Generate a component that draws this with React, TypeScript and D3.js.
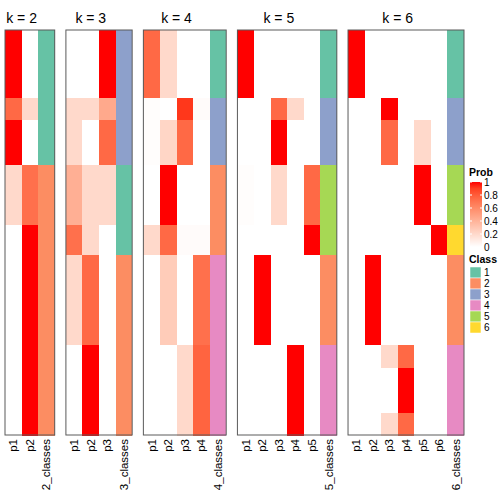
import React from "react";
import * as d3 from "d3";

// rows per sample group (54 samples)
const segmentRows = [9, 3, 6, 8, 4, 12, 3, 6, 3];

const k2Prob = [[1, 0], [0.75, 0.2], [1, 0], [0.2, 0.72], [0, 1], [0, 1], [0, 1], [0, 1], [0, 1]];
const k2Class = [1, 1, 1, 2, 2, 2, 2, 2, 2];

const k3Prob = [[0, 0, 1], [0.2, 0.2, 0.45], [0.2, 0, 0.75], [0.42, 0.2, 0.2], [0.72, 0.2, 0], [0.2, 0.75, 0], [0, 1, 0], [0, 1, 0], [0, 1, 0]];
const k3Class = [3, 3, 3, 1, 1, 2, 2, 2, 2];

const k4Prob = [[0.75, 0.2, 0, 0], [0.01, 0, 0.92, 0.02], [0.01, 0.22, 0.75, 0], [0, 1, 0, 0], [0.2, 0.75, 0.02, 0.02], [0, 0.27, 0, 0.72], [0, 0, 0.2, 0.77], [0, 0, 0.2, 0.77], [0, 0, 0.2, 0.77]];
const k4Class = [1, 3, 3, 2, 2, 4, 4, 4, 4];

const k5Prob = [[1, 0, 0, 0, 0], [0, 0, 0.75, 0.2, 0], [0, 0, 1, 0, 0], [0.01, 0, 0.2, 0, 0.75], [0, 0, 0, 0, 1], [0, 1, 0, 0, 0], [0, 0, 0, 1, 0], [0, 0, 0, 1, 0], [0, 0, 0, 1, 0]];
const k5Class = [1, 3, 3, 5, 5, 2, 4, 4, 4];

const k6Prob = [[1, 0, 0, 0, 0, 0], [0, 0, 1, 0, 0, 0], [0, 0, 0.75, 0, 0.2, 0], [0, 0, 0, 0, 1, 0], [0, 0, 0, 0, 0, 1], [0, 1, 0, 0, 0, 0], [0, 0, 0.2, 0.75, 0, 0], [0, 0, 0, 1, 0, 0], [0, 0, 0.2, 0.75, 0, 0]];
const k6Class = [1, 3, 3, 5, 6, 2, 4, 4, 4];

const panels = [
  { k: 2, prob: k2Prob, cls: k2Class },
  { k: 3, prob: k3Prob, cls: k3Class },
  { k: 4, prob: k4Prob, cls: k4Class },
  { k: 5, prob: k5Prob, cls: k5Class },
  { k: 6, prob: k6Prob, cls: k6Class },
];

const classLabels = ["1", "2", "3", "4", "5", "6"];
const classColors = ["#66C2A5", "#FC8D62", "#8DA0CB", "#E78AC3", "#A6D854", "#FFD92F"];
const probTicks = [0, 0.2, 0.4, 0.6, 0.8, 1];

const FONT = "'Liberation Sans', Arial, Helvetica, sans-serif";

export default function App() {
  const top = 30, bottom = 435;
  const left = 5, right = 464, gap = 11.2;
  const totalCols = panels.reduce((s, p) => s + p.k + 1, 0);
  const colW = (right - left - gap * (panels.length - 1)) / totalCols;
  const cum = [0];
  segmentRows.forEach((n) => cum.push(cum[cum.length - 1] + n));
  const y = d3.scaleLinear().domain([0, cum[cum.length - 1]]).range([top, bottom]);
  const probColor = d3.scaleLinear<string>().domain([0, 1]).range(["#FFFFFF", "#FF0000"]).interpolate(d3.interpolateLab);
  const classColor = d3.scaleOrdinal<number, string>().domain([1, 2, 3, 4, 5, 6]).range(classColors);

  let x0 = left;
  const panelEls = panels.map((p, pi) => {
    const names = d3.range(1, p.k + 1).map((i) => `p${i}`).concat([`${p.k}_classes`]);
    const xs = d3.scaleBand().domain(names).range([x0, x0 + colW * names.length]);
    const px = x0;
    const w = colW * names.length;
    x0 += w + gap;
    return (
      <g key={pi}>
        <g shapeRendering="crispEdges">
          {p.prob.map((row, si) =>
            row.map((v, ci) => (
              <rect key={`${si}-${ci}`} x={xs(names[ci])} y={y(cum[si])} width={xs.bandwidth() + 0.5}
                height={y(cum[si + 1]) - y(cum[si]) + 0.5} fill={probColor(v)} />
            ))
          )}
          {p.cls.map((c, si) => (
            <rect key={`c${si}`} x={xs(names[p.k])} y={y(cum[si])} width={xs.bandwidth()}
              height={y(cum[si + 1]) - y(cum[si]) + 0.5} fill={classColor(c)} />
          ))}
        </g>
        <rect x={px} y={top} width={w} height={bottom - top} fill="none" stroke="#5a5a5a" strokeWidth={1} />
        <text x={px + (colW * p.k) / 2} y={23} textAnchor="middle" fontSize={14} fontFamily={FONT}>{`k = ${p.k}`}</text>
        {names.map((n) => (
          <text key={n} transform={`translate(${(xs(n) as number) + xs.bandwidth() / 2},${bottom + 4}) rotate(-90)`}
            textAnchor="end" dominantBaseline="central" fontSize={11.5} fontFamily={FONT}>{n}</text>
        ))}
      </g>
    );
  });

  // legend
  const lx = 470, barTop = 182, barBot = 247, barW = 12;
  const ly = d3.scaleLinear().domain([0, 1]).range([barBot, barTop]);
  const stops = d3.range(0, 1.0001, 0.1);

  return (
    <svg width={504} height={504} style={{ position: "absolute", left: 0, top: 0, background: "#fff" }}>
      <defs>
        <linearGradient id="probGrad" x1="0" y1="1" x2="0" y2="0">
          {stops.map((s) => (
            <stop key={s} offset={s} stopColor={probColor(s)} />
          ))}
        </linearGradient>
      </defs>
      <rect width={504} height={504} fill="#fff" />
      {panelEls}
      <text x={lx - 1} y={176} fontSize={10.5} fontWeight="bold" fontFamily={FONT}>Prob</text>
      <rect x={lx} y={barTop} width={barW} height={barBot - barTop} fill="url(#probGrad)" />
      {probTicks.map((t) => (
        <g key={t}>
          <line x1={lx} x2={lx + 2} y1={ly(t)} y2={ly(t)} stroke="#fff" strokeWidth={1} />
          <line x1={lx + barW - 2} x2={lx + barW} y1={ly(t)} y2={ly(t)} stroke="#fff" strokeWidth={1} />
          <text x={lx + barW + 2} y={ly(t) + 3.6} fontSize={10} fontFamily={FONT}>{String(t)}</text>
        </g>
      ))}
      <text x={lx - 1} y={263} fontSize={10.5} fontWeight="bold" fontFamily={FONT}>Class</text>
      {classLabels.map((c, i) => (
        <g key={c}>
          <rect x={lx} y={267 + i * 11} width={11} height={11} fill={classColors[i]} stroke="#fff" strokeWidth={0.5} />
          <text x={lx + barW + 2} y={276 + i * 11} fontSize={10} fontFamily={FONT}>{c}</text>
        </g>
      ))}
    </svg>
  );
}
